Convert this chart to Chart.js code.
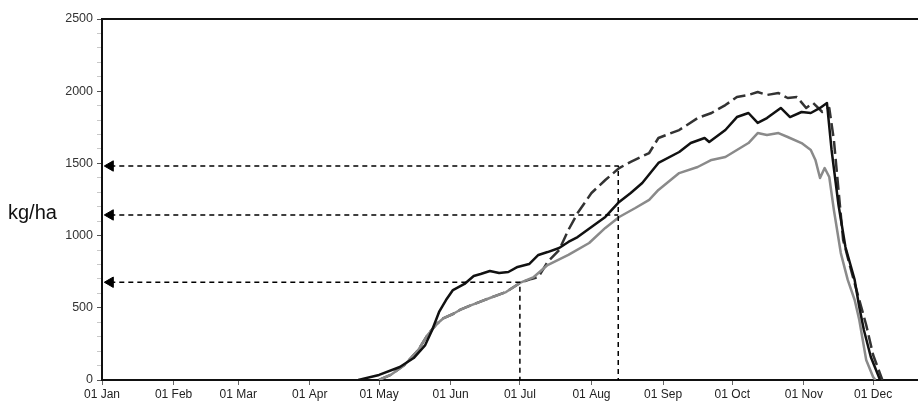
<!DOCTYPE html>
<html>
<head>
<meta charset="utf-8">
<script src="https://cdn.jsdelivr.net/npm/chart.js@4/dist/chart.umd.min.js"></script>
<style>
html, body { margin: 0; padding: 0; background: #fff; }
#wrap { position: relative; width: 924px; height: 405px; }
</style>
</head>
<body>
<div id="wrap"><canvas id="chart" width="924" height="405"></canvas></div>
<script>
// Day of year (0 = 01 Jan) and month labels for the x axis
const monthDays = [0, 31, 59, 90, 120, 151, 181, 212, 243, 273, 304, 334];
const monthLabels = ['01 Jan', '01 Feb', '01 Mar', '01 Apr', '01 May', '01 Jun',
                     '01 Jul', '01 Aug', '01 Sep', '01 Oct', '01 Nov', '01 Dec'];
const yTickLabels = ['0', '500', '1000', '1500', '2000', '2500'];
const yTitle = 'kg/ha';

// Black solid series
const blackDays = [111,120,129,135,140,143,146,149,152,157,161,164,168,172,176,180,185,189,193,198,
                   202,206,212,218,224,229,234,241,250,255,261,263,270,275,280,284,288,294,298,303,
                   307,311,314,316,319,322,326,328,330,333,337];
const blackVals = [0,35,90,152,242,346,471,554,623,665,720,734,755,741,748,783,803,866,886,914,
                   956,990,1060,1129,1233,1295,1364,1503,1579,1641,1676,1648,1731,1821,1849,1780,1814,1884,1821,1856,
                   1849,1884,1918,1593,1212,921,693,506,346,159,0];

// Grey solid series
const greyDays = [120,125,131,137,141,145,148,152,155,160,168,175,181,187,193,202,211,218,224,231,
                  237,241,250,258,264,270,275,280,284,288,293,297,303,307,309,311,313,315,317,320,
                  323,326,328,331,334,335];
const greyVals = [0,35,104,208,312,388,429,457,485,519,568,609,672,713,796,866,949,1053,1129,1191,
                  1247,1316,1433,1475,1524,1544,1593,1641,1710,1697,1710,1683,1641,1593,1524,1399,1468,1406,1177,879,
                  693,554,415,138,21,0];

// Dashed series
const dashDays = [120,125,131,137,141,145,148,152,155,160,168,175,181,186,189,193,198,202,206,212,
                  218,224,229,237,241,250,258,264,270,275,280,284,288,293,297,301,305,308,312,315,
                  317,319,321,325,328,331,334,338];
const dashVals = [0,35,104,208,312,388,429,457,485,519,568,609,672,700,713,817,900,1039,1156,1295,
                  1385,1468,1510,1572,1676,1731,1814,1849,1904,1960,1974,1994,1974,1987,1953,1960,1884,1918,1856,1884,
                  1662,1316,970,727,554,381,173,0];

const guideLevels = [1482, 1143, 677];
const guideDays = [223.6, 223.6, 181];
const guideDrop = [true, false, true];
const arrowDay = 3.6;

const FONT = 'Liberation Sans, Arial, sans-serif';

function pts(days, vals)
{
    return days.map((d, i) => ({ x: d, y: vals[i] }));
}

const guideSets = guideLevels.map((lvl, i) =>
{
    const data = [{ x: arrowDay, y: lvl }, { x: guideDays[i], y: lvl }];
    if (guideDrop[i]) data.push({ x: guideDays[i], y: 0 });
    return {
        data: data,
        borderColor: '#000',
        borderWidth: 1.5,
        borderDash: [5, 4],
        pointRadius: data.map((p, j) => j === 0 ? 6 : 0),
        pointStyle: 'triangle',
        pointRotation: -90,
        pointBackgroundColor: '#000',
        pointBorderColor: '#000',
        pointBorderWidth: 1
    };
});

const yTitlePlugin =
{
    id: 'yTitle',
    afterDraw(chart)
    {
        const ctx = chart.ctx;
        ctx.save();
        ctx.font = '20px ' + FONT;
        ctx.fillStyle = '#111';
        ctx.textBaseline = 'alphabetic';
        ctx.fillText(yTitle, 8, 219);
        ctx.restore();
    }
};

new Chart(document.getElementById('chart'),
{
    type: 'line',
    data:
    {
        datasets: [
            ...guideSets,
            { data: pts(blackDays, blackVals), borderColor: '#111', borderWidth: 2.5, pointRadius: 0 },
            { data: pts(greyDays, greyVals), borderColor: '#8a8a8a', borderWidth: 2.5, pointRadius: 0 },
            { data: pts(dashDays, dashVals), borderColor: '#333', borderWidth: 2.5, borderDash: [13, 5], pointRadius: 0 }
        ]
    },
    options:
    {
        responsive: false,
        animation: false,
        devicePixelRatio: 1,
        plugins: { legend: { display: false }, tooltip: { enabled: false } },
        layout: { padding: { top: 19, right: 2, left: 0, bottom: 0 } },
        elements: { line: { tension: 0, borderJoinStyle: 'round' } },
        scales:
        {
            x:
            {
                type: 'linear', position: 'bottom', min: 0, max: 353,
                afterBuildTicks: s => { s.ticks = monthDays.map(v => ({ value: v })); },
                afterFit: s => { s.height = 25; },
                ticks:
                {
                    autoSkip: false, maxRotation: 0, padding: 2, color: '#222',
                    font: { family: FONT, size: 12 },
                    callback: v => monthLabels[monthDays.indexOf(v)]
                },
                grid: { drawOnChartArea: false, tickLength: 5, tickColor: '#666' },
                border: { color: '#111', width: 2 }
            },
            xTop:
            {
                type: 'linear', position: 'top', min: 0, max: 353,
                afterFit: s => { s.height = 0; },
                ticks: { display: false },
                grid: { display: false },
                border: { color: '#111', width: 2 }
            },
            y:
            {
                min: 0, max: 2500,
                afterBuildTicks: s =>
                {
                    const t = [];
                    for (let v = 0; v <= 2500; v += 100) t.push({ value: v });
                    s.ticks = t;
                },
                afterFit: s => { s.width = 102; },
                ticks:
                {
                    autoSkip: false, padding: 4, color: '#333',
                    font: { family: FONT, size: 12.5 },
                    callback: v => v % 500 === 0 ? yTickLabels[v / 500] : ''
                },
                grid:
                {
                    drawOnChartArea: false, tickLength: 5,
                    tickColor: c => c.tick && c.tick.value % 500 === 0 ? '#555' : '#c8c8c8'
                },
                border: { color: '#111', width: 2 }
            }
        }
    },
    plugins: [yTitlePlugin]
});
</script>
</body>
</html>
